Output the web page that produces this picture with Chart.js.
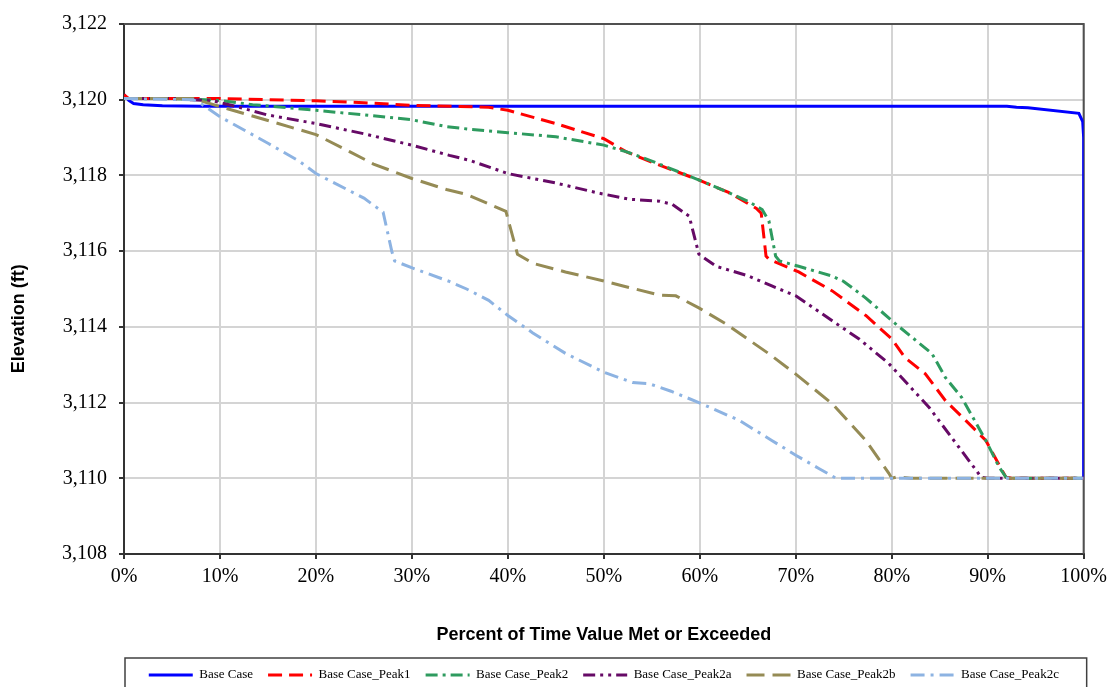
<!DOCTYPE html>
<html>
<head>
<meta charset="utf-8">
<script src="https://cdn.jsdelivr.net/npm/chart.js@4.4.0/dist/chart.umd.min.js"></script>
<style>
  html, body { margin: 0; padding: 0; background: #fff; }
</style>
</head>
<body>
<canvas id="elevChart" width="1113" height="687"></canvas>
<script>
// Series names (legend order)
const seriesNames = ['Base Case', 'Base Case_Peak1', 'Base Case_Peak2', 'Base Case_Peak2a', 'Base Case_Peak2b', 'Base Case_Peak2c'];

// Percent of time (x) and elevation in ft (y)
const baseX = [0, 0.5, 1, 2, 4, 8, 92, 93, 94.2, 99.5, 99.9, 100, 100];
const baseY = [3120.13, 3119.98, 3119.9, 3119.87, 3119.84, 3119.83, 3119.83, 3119.8, 3119.79, 3119.64, 3119.42, 3119.0, 3110.0];

const peak1X = [0, 0.5, 5, 10, 15, 20, 25, 30, 35, 38, 40, 45, 50, 52.3, 55, 60, 63, 65.9, 66.4, 66.9, 67.2, 70.3, 73.8, 77.3, 80, 81.4, 83.5, 85.6, 87.7, 89.8, 91.5, 91.9, 92.5, 100];
const peak1Y = [3120.13, 3120.03, 3120.03, 3120.03, 3120.0, 3119.97, 3119.92, 3119.85, 3119.82, 3119.8, 3119.72, 3119.37, 3118.97, 3118.63, 3118.35, 3117.87, 3117.55, 3117.13, 3117.0, 3115.87, 3115.79, 3115.45, 3114.95, 3114.3, 3113.68, 3113.18, 3112.76, 3112.05, 3111.53, 3111.0, 3110.21, 3110.03, 3110.0, 3110.0];

const peak2X = [0, 5, 6.5, 10, 13.4, 20, 25, 30, 33.6, 36, 40, 45, 50, 52.3, 55, 60, 63, 65, 66.5, 67.2, 67.9, 68.3, 70.3, 73.8, 75, 77.3, 80.4, 84.2, 85.6, 87.3, 89.8, 91.2, 91.9, 92.5, 100];
const peak2Y = [3120.03, 3120.03, 3120.02, 3119.98, 3119.87, 3119.72, 3119.6, 3119.47, 3119.29, 3119.22, 3119.13, 3119.02, 3118.8, 3118.63, 3118.38, 3117.87, 3117.55, 3117.32, 3117.1, 3116.8, 3115.87, 3115.74, 3115.6, 3115.34, 3115.2, 3114.76, 3114.08, 3113.29, 3112.66, 3112.13, 3111.0, 3110.29, 3110.03, 3110.0, 3110.0];

const peak2aX = [0, 5, 7, 9.3, 12, 14.9, 20, 25, 30, 33.9, 36, 40, 45, 49.5, 52.7, 55.8, 57.1, 58.9, 59.9, 61.7, 65, 67.5, 70, 73.8, 76.6, 79.7, 83.9, 87, 88.8, 89.3, 90, 100];
const peak2aY = [3120.03, 3120.03, 3120.0, 3119.97, 3119.8, 3119.6, 3119.37, 3119.1, 3118.8, 3118.53, 3118.4, 3118.05, 3117.8, 3117.53, 3117.37, 3117.32, 3117.24, 3116.92, 3115.92, 3115.6, 3115.35, 3115.08, 3114.82, 3114.16, 3113.68, 3113.03, 3111.87, 3110.82, 3110.21, 3110.03, 3110.0, 3110.0];

const peak2bX = [0, 7.2, 10, 15, 20, 23.5, 26, 30, 33.6, 35.7, 39.8, 41, 42.6, 46, 50, 52, 55.8, 57.5, 59.9, 62.7, 67.2, 70, 73.8, 77.3, 79.7, 80, 80.6, 82, 100];
const peak2bY = [3120.03, 3120.03, 3119.82, 3119.45, 3119.08, 3118.63, 3118.3, 3117.92, 3117.63, 3117.5, 3117.05, 3115.92, 3115.68, 3115.45, 3115.21, 3115.08, 3114.84, 3114.82, 3114.5, 3114.08, 3113.29, 3112.75, 3111.97, 3111.0, 3110.13, 3110.0, 3110.04, 3110.0, 3110.0];

const peak2cX = [0, 7.2, 8, 10, 15, 18.3, 20, 25, 27, 27.9, 28.2, 30.1, 33.9, 35.7, 38, 40, 42.6, 46, 50, 53, 54.7, 57, 59.9, 64.1, 67.5, 70, 72.4, 74.2, 100];
const peak2cY = [3120.03, 3120.0, 3119.9, 3119.55, 3118.85, 3118.37, 3118.05, 3117.4, 3117.03, 3116.0, 3115.74, 3115.55, 3115.2, 3115.0, 3114.7, 3114.3, 3113.84, 3113.3, 3112.8, 3112.53, 3112.5, 3112.3, 3112.0, 3111.53, 3111.0, 3110.61, 3110.26, 3110.0, 3110.0];

// Axis ranges / ticks
const xMin = 0, xMax = 100, xStep = 10;
const yMin = 3108, yMax = 3122, yStep = 2;

function toPoints(xs, ys) {
  return xs.map((x, i) => ({ x: x, y: ys[i] }));
}

const styles = [
  { color: '#0000ff', dash: [], width: 3 },
  { color: '#ff0000', dash: [14, 7], width: 3 },
  { color: '#2e9b5f', dash: [12, 5, 3, 5], width: 3 },
  { color: '#660a66', dash: [12, 5, 3, 5, 3, 5], width: 3 },
  { color: '#958b55', dash: [18, 8], width: 3 },
  { color: '#8db3e2', dash: [14, 6, 3, 6], width: 3 }
];
const seriesData = [
  toPoints(baseX, baseY),
  toPoints(peak1X, peak1Y),
  toPoints(peak2X, peak2Y),
  toPoints(peak2aX, peak2aY),
  toPoints(peak2bX, peak2bY),
  toPoints(peak2cX, peak2cY)
];

const datasets = seriesNames.map((name, i) => ({
  label: name,
  data: seriesData[i],
  borderColor: styles[i].color,
  backgroundColor: styles[i].color,
  borderDash: styles[i].dash,
  borderWidth: styles[i].width,
  showLine: true,
  pointRadius: 0,
  fill: false,
  tension: 0,
  order: seriesNames.length - i   // later series on top, like the original
}));

// top/right frame of the plot area + box around the legend + y title
const framePlugin = {
  id: 'frame',
  beforeDatasetsDraw(chart) {
    const { ctx, chartArea: a } = chart;
    ctx.save();
    ctx.strokeStyle = '#505050';
    ctx.lineWidth = 2;
    ctx.beginPath();
    ctx.moveTo(a.left, a.top);
    ctx.lineTo(a.right, a.top);
    ctx.lineTo(a.right, a.bottom);
    ctx.stroke();
    ctx.restore();
  },
  afterDraw(chart) {
    const { ctx, chartArea: a } = chart;
    const boxes = chart.legend.legendHitBoxes;
    ctx.save();
    if (boxes && boxes.length) {
      const top = boxes[0].top - 10.5;
      ctx.strokeStyle = '#404040';
      ctx.lineWidth = 1.5;
      ctx.strokeRect(a.left + 1, top, a.right - a.left + 2, 80);
    }
    ctx.translate(19, a.top + (a.bottom - a.top) * 0.556);
    ctx.rotate(-Math.PI / 2);
    ctx.font = 'bold 18px "Liberation Sans", Arial, sans-serif';
    ctx.fillStyle = '#000';
    ctx.textAlign = 'center';
    ctx.textBaseline = 'middle';
    ctx.fillText('Elevation (ft)', 0, 0);
    ctx.restore();
  }
};

const ctx = document.getElementById('elevChart').getContext('2d');
const elevChart = new Chart(ctx, {
  type: 'scatter',
  data: { datasets: datasets },
  plugins: [framePlugin],
  options: {
    responsive: false,
    animation: false,
    devicePixelRatio: 1,
    layout: { padding: { top: 22, right: 28, left: 0, bottom: -4.5 } },
    plugins: {
      tooltip: { enabled: false },
      legend: {
        position: 'bottom',
        fullSize: false,
        labels: {
          usePointStyle: true,
          pointStyle: 'line',
          pointStyleWidth: 44,
          padding: 15,
          color: '#000',
          font: { family: '"Liberation Serif", "Times New Roman", serif', size: 13 },
          sort: (a, b) => a.datasetIndex - b.datasetIndex,
          // legend samples carry the dataset's dash pattern
          generateLabels(chart) {
            const items = Chart.defaults.plugins.legend.labels.generateLabels(chart);
            items.forEach(it => {
              const ds = chart.data.datasets[it.datasetIndex];
              it.lineDash = ds.borderDash;
              it.lineWidth = ds.borderWidth;
              it.strokeStyle = ds.borderColor;
            });
            return items;
          }
        }
      }
    },
    scales: {
      x: {
        type: 'linear',
        min: xMin,
        max: xMax,
        afterFit(scale) { scale.height = 99.5; },
        ticks: {
          stepSize: xStep,
          padding: 6,
          color: '#000',
          font: { family: '"Liberation Serif", "Times New Roman", serif', size: 20 },
          callback: (v) => v + '%'
        },
        grid: { color: '#d4d4d4', lineWidth: 2, tickLength: 5, tickColor: '#333' },
        border: { color: '#333', width: 2 },
        title: {
          display: true,
          text: 'Percent of Time Value Met or Exceeded',
          color: '#000',
          padding: { top: 0, bottom: 8 },
          font: { family: '"Liberation Sans", Arial, sans-serif', size: 18, weight: 'bold' }
        }
      },
      y: {
        min: yMin,
        max: yMax,
        afterFit(scale) { scale.width = 124; },
        ticks: {
          stepSize: yStep,
          padding: 12,
          color: '#000',
          font: { family: '"Liberation Serif", "Times New Roman", serif', size: 20 },
          callback: (v) => v.toLocaleString('en-US')
        },
        grid: { color: '#d4d4d4', lineWidth: 2, tickLength: 5, tickColor: '#333' },
        border: { color: '#333', width: 2 }
      }
    }
  }
});
</script>
</body>
</html>
